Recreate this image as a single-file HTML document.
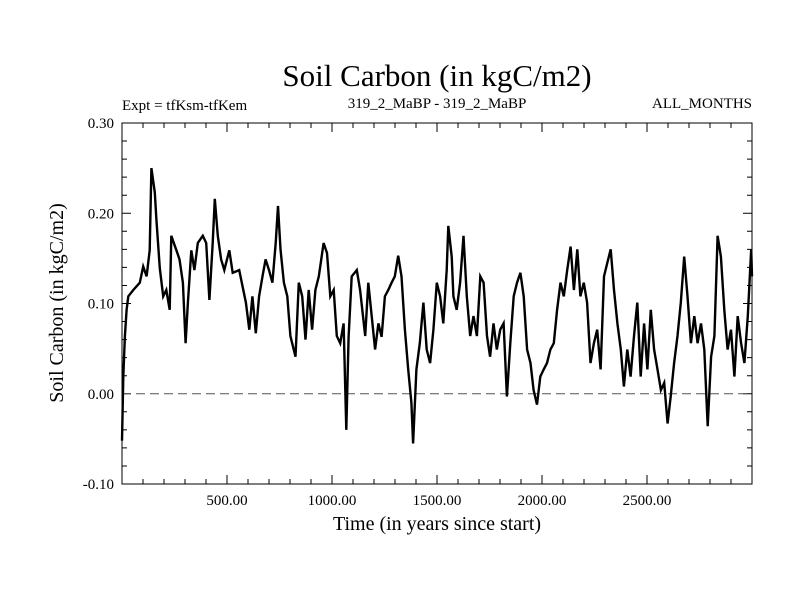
<!DOCTYPE html>
<html><head><meta charset="utf-8"><style>
body{margin:0;background:#fff}
svg{display:block;font-family:"Liberation Serif",serif}
</style></head><body>
<svg id="c" width="800" height="600">
<text x="437" y="86" font-size="31" text-anchor="middle">Soil Carbon (in kgC/m2)</text>
<text x="122" y="110" font-size="15">Expt = tfKsm-tfKem</text>
<text x="437" y="108" font-size="15" text-anchor="middle">319_2_MaBP - 319_2_MaBP</text>
<text x="752" y="108" font-size="15" text-anchor="end">ALL_MONTHS</text>
<text x="437" y="530" font-size="20" text-anchor="middle">Time (in years since start)</text>
<text x="0" y="0" font-size="20" text-anchor="middle" transform="translate(63,303) rotate(-90)">Soil Carbon (in kgC/m2)</text>
<g id="axes"></g>
<g id="plot"></g>
</svg>
<script>
const years=[0,6,14,22,30,54,85,101,117,132,140,156,164,180,196,211,227,235,259,274,290,303,314,330,345,361,385,401,416,432,442,456,472,487,511,527,558,590,606,621,637,653,669,684,700,716,732,743,755,771,787,802,826,842,858,874,889,905,921,937,960,976,992,1008,1023,1039,1055,1068,1079,1094,1118,1134,1158,1173,1189,1205,1221,1236,1252,1268,1284,1299,1315,1331,1347,1363,1378,1386,1402,1418,1435,1451,1467,1483,1499,1515,1530,1546,1554,1570,1578,1594,1610,1626,1642,1658,1674,1690,1706,1722,1738,1753,1769,1785,1801,1817,1833,1849,1865,1881,1897,1913,1929,1945,1960,1976,1992,2008,2024,2040,2056,2072,2088,2104,2120,2136,2152,2168,2183,2199,2215,2231,2247,2263,2279,2295,2311,2327,2343,2359,2375,2390,2406,2422,2438,2454,2470,2486,2502,2518,2534,2550,2566,2582,2598,2613,2629,2645,2661,2677,2693,2709,2725,2741,2757,2773,2789,2805,2821,2836,2852,2868,2884,2900,2916,2932,2948,2964,2980,2996,3000];
const values=[-0.052,0.019,0.064,0.093,0.108,0.115,0.123,0.141,0.130,0.159,0.250,0.223,0.193,0.139,0.108,0.115,0.093,0.175,0.159,0.149,0.123,0.056,0.101,0.159,0.137,0.167,0.175,0.167,0.104,0.167,0.216,0.175,0.149,0.137,0.159,0.134,0.137,0.101,0.071,0.108,0.067,0.108,0.130,0.149,0.137,0.123,0.167,0.208,0.160,0.123,0.108,0.064,0.041,0.123,0.108,0.060,0.115,0.071,0.115,0.130,0.167,0.156,0.108,0.115,0.064,0.056,0.078,-0.040,0.063,0.130,0.137,0.115,0.064,0.123,0.086,0.049,0.078,0.063,0.108,0.115,0.123,0.130,0.153,0.130,0.071,0.027,-0.010,-0.055,0.027,0.056,0.101,0.049,0.034,0.071,0.123,0.108,0.078,0.137,0.186,0.152,0.108,0.093,0.123,0.175,0.108,0.064,0.086,0.064,0.130,0.123,0.064,0.041,0.078,0.049,0.071,0.078,-0.003,0.056,0.108,0.123,0.134,0.108,0.049,0.034,0.004,-0.012,0.019,0.027,0.034,0.049,0.056,0.093,0.123,0.108,0.137,0.163,0.115,0.160,0.108,0.123,0.101,0.034,0.056,0.071,0.027,0.130,0.145,0.160,0.115,0.078,0.049,0.008,0.049,0.019,0.064,0.101,0.019,0.078,0.027,0.093,0.049,0.027,0.004,0.012,-0.033,-0.003,0.034,0.064,0.101,0.152,0.108,0.056,0.086,0.056,0.078,0.049,-0.036,0.041,0.064,0.175,0.152,0.093,0.049,0.071,0.019,0.086,0.056,0.034,0.086,0.160,0.130];
const xTicks=[500,1000,1500,2000,2500];
const xTickLabels=["500.00","1000.00","1500.00","2000.00","2500.00"];
const yTicks=[-0.1,0,0.1,0.2,0.3];
const yTickLabels=["-0.10","0.00","0.10","0.20","0.30"];

const L=122,R=752,T=123,B=484,X0=0,X1=3000,Y0=-0.1,Y1=0.3;
const sx=v=>L+(v-X0)/(X1-X0)*(R-L);
const sy=v=>B-(v-Y0)/(Y1-Y0)*(B-T);
const NS='http://www.w3.org/2000/svg';
const axes=document.getElementById('axes'),plot=document.getElementById('plot');
function mk(tag,attrs,parent){const e=document.createElementNS(NS,tag);for(const k in attrs)e.setAttribute(k,attrs[k]);parent.appendChild(e);return e;}
const frame=mk('rect',{x:L,y:T,width:R-L,height:B-T,fill:'none',stroke:'#000','stroke-width':1},axes);


let td='';
for(let v=100;v<X1;v+=100){const x=sx(v),len=(v%500===0)?9:5;td+=`M${x},${B}v${-len}M${x},${T}v${len}`;}
for(let i=0;i<=20;i++){const v=Y0+i*0.02,y=sy(v),len=(i%5===0)?9:5;td+=`M${L},${y}h${len}M${R},${y}h${-len}`;}
const ticks=mk('path',{d:td,stroke:'#000','stroke-width':1,fill:'none'},axes);


xTicks.forEach((v,i)=>{const t=mk('text',{x:sx(v),y:B+21,'font-size':15,'text-anchor':'middle'},axes);t.textContent=xTickLabels[i];

});
yTicks.forEach((v,i)=>{const t=mk('text',{x:L-8,y:sy(v)+5,'font-size':15,'text-anchor':'end'},axes);t.textContent=yTickLabels[i];

});
const zero=mk('line',{x1:L,x2:R,y1:sy(0),y2:sy(0),stroke:'#555','stroke-width':1,'stroke-dasharray':'9,5'},plot);


let d='';years.forEach((yr,i)=>{d+=(i?'L':'M')+sx(yr).toFixed(1)+','+sy(values[i]).toFixed(1);});
const line=mk('path',{d:d,fill:'none',stroke:'#000','stroke-width':2.4,'stroke-linejoin':'miter'},plot);


</script>
</body></html>
